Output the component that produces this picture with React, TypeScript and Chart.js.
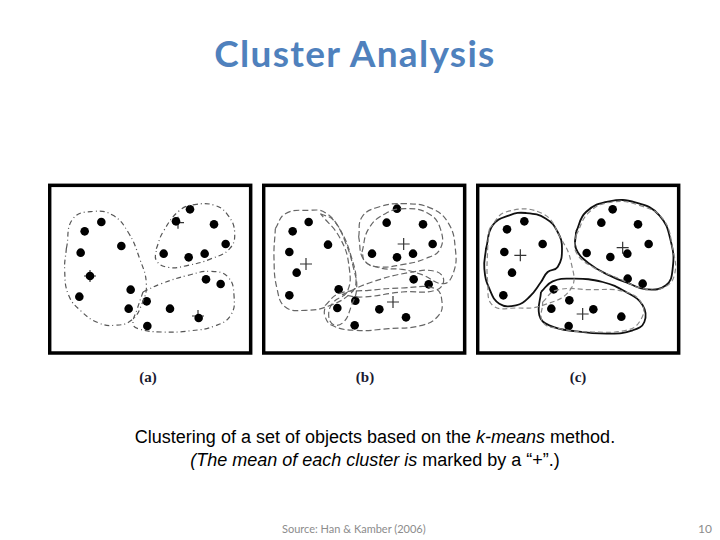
import React, { useEffect, useRef } from "react";
import { Chart, registerables } from "chart.js";
Chart.register(...registerables);

type P = [number, number];

// Panel (a)
const aDots: P[] = [[160,120],[110,148],[98,212],[220,192],[126,282],[94,344],[248,323],[242,380],[426,82],[384,118],[498,127],[533,186],[347,215],[422,226],[470,215],[474,292],[518,306],[296,358],[366,380],[452,408],[298,432]];
const aMeans: P[] = [[126,282],[390,122],[450,402]];
const aOutline1: P[] = [[55,200],[75,110],[140,88],[195,100],[240,150],[275,230],[295,305],[282,365],[250,415],[200,430],[150,422],[100,388],[62,340],[50,265]];
const aOutline2: P[] = [[325,200],[345,150],[395,85],[440,68],[500,70],[540,100],[560,152],[545,200],[490,230],[420,250],[360,256],[325,235]];
const aOutline3: P[] = [[285,330],[340,305],[420,280],[490,268],[540,285],[558,340],[548,400],[500,432],[430,446],[340,450],[270,440],[255,425],[268,380]];

// Panel (b)
const bDots: P[] = [[140,120],[92,148],[82,210],[198,188],[104,272],[82,340],[230,322],[226,378],[280,356],[278,430],[352,382],[432,406],[455,292],[500,307],[405,80],[374,122],[483,127],[512,186],[330,215],[405,226],[453,215]];
const bMeans: P[] = [[132,246],[425,186],[393,360]];
const bOutline1: P[] = [[40,140],[70,95],[140,85],[190,92],[235,145],[268,225],[282,300],[265,335],[200,372],[130,385],[70,375],[45,320],[36,230]];
const bOutline2: P[] = [[175,95],[215,115],[250,180],[275,260],[284,320],[268,372],[245,420],[215,428],[200,398],[215,360],[255,330],[262,260],[235,170]];
const bOutline3: P[] = [[290,165],[300,105],[350,75],[430,65],[510,80],[560,125],[580,200],[575,270],[545,305],[480,278],[420,262],[355,258],[305,232]];
const bOutline4: P[] = [[300,210],[320,140],[370,95],[430,80],[500,95],[535,140],[535,200],[490,230],[420,248],[350,255],[310,240]];
const bOutline5: P[] = [[190,370],[230,335],[320,325],[420,318],[520,320],[540,360],[530,400],[480,430],[380,440],[280,445],[210,430],[188,400]];
const bOutline6: P[] = [[240,338],[330,300],[440,272],[520,268],[545,295],[520,325],[420,330],[300,345]];

// Panel (c)
const cDots: P[] = [[145,118],[93,142],[200,186],[85,210],[108,272],[82,340],[410,82],[376,122],[486,127],[518,186],[332,213],[403,225],[454,215],[455,290],[500,305],[233,322],[280,355],[226,380],[352,382],[436,404],[278,432]];
const cMeans: P[] = [[133,220],[440,197],[320,396]];
const cSolid1: P[] = [[30,200],[50,130],[100,100],[150,93],[210,110],[245,150],[258,200],[245,255],[215,270],[195,300],[160,345],[120,370],[70,365],[40,320],[25,260]];
const cSolid2: P[] = [[300,150],[330,90],[400,58],[480,62],[550,100],[585,180],[590,260],[570,310],[510,322],[460,305],[400,280],[340,245],[300,200]];
const cSolid3: P[] = [[195,330],[230,298],[290,290],[380,300],[450,330],[500,370],[505,420],[470,445],[400,455],[300,448],[220,430],[190,400]];
const cDash1: P[] = [[40,140],[90,90],[200,95],[255,170],[285,240],[285,320],[200,370],[120,378],[50,370],[35,300],[35,200]];
const cDash2: P[] = [[300,160],[340,90],[410,60],[490,70],[560,110],[590,200],[595,280],[560,318],[500,320],[430,290],[350,255],[300,210]];
const cDash3: P[] = [[200,360],[240,325],[340,323],[450,330],[500,370],[490,420],[450,445],[350,450],[250,440],[200,420]];

const panelLabels = ["(a)", "(b)", "(c)"];

const toXY = (pts: P[]) => pts.map(([x, y]) => ({ x, y }));
const closed = (pts: P[]) => toXY([...pts, pts[0]]);

function outline(pts: P[], dash: number[], color: string, width: number) {
  return {
    type: "line" as const,
    data: closed(pts),
    borderColor: color,
    borderWidth: width,
    borderDash: dash,
    tension: 0.45,
    pointRadius: 0,
    fill: false,
  };
}

const framePlugin = {
  id: "frame",
  afterDraw(chart: any) {
    const { ctx, scales } = chart;
    const x0 = scales.x.getPixelForValue(5);
    const x1 = scales.x.getPixelForValue(608);
    const y0 = scales.y.getPixelForValue(10);
    const y1 = scales.y.getPixelForValue(513);
    ctx.save();
    ctx.strokeStyle = "#000";
    ctx.lineWidth = 3.5;
    ctx.strokeRect(x0, y0, x1 - x0, y1 - y0);
    ctx.restore();
  },
};

function Panel({ left, outlines, dots, means }: { left: number; outlines: any[]; dots: P[]; means: P[] }) {
  const ref = useRef<HTMLCanvasElement>(null);
  useEffect(() => {
    const chart = new Chart(ref.current!, {
      type: "scatter",
      data: {
        datasets: [
          ...outlines,
          {
            type: "scatter",
            data: toXY(dots),
            pointRadius: 4.3,
            backgroundColor: "#000",
            borderColor: "#000",
            borderWidth: 0,
          },
          {
            type: "scatter",
            data: toXY(means),
            pointStyle: "cross",
            pointRadius: 6,
            borderColor: "#333",
            borderWidth: 1.2,
          },
        ] as any,
      },
      options: {
        animation: false,
        responsive: false,
        events: [],
        layout: { padding: 0, autoPadding: false },
        plugins: { legend: { display: false }, tooltip: { enabled: false } },
        scales: {
          x: { type: "linear", min: 0, max: 618, display: false },
          y: { type: "linear", min: 0, max: 522, reverse: true, display: false },
        },
      },
      plugins: [framePlugin],
    });
    return () => chart.destroy();
  }, []);
  return (
    <canvas
      ref={ref}
      width={206}
      height={174}
      style={{ position: "absolute", left, top: 182, width: 206, height: 174 }}
    />
  );
}

export default function App() {
  const dashA = [5, 3, 1, 3];
  const dashB = [6, 3];
  const grayA = "#555";
  const grayB = "#666";
  const panels = [
    {
      left: 48,
      outlines: [outline(aOutline1, dashA, grayA, 1.2), outline(aOutline2, dashA, grayA, 1.2), outline(aOutline3, dashA, grayA, 1.2)],
      dots: aDots,
      means: aMeans,
    },
    {
      left: 262,
      outlines: [
        outline(bOutline1, dashB, grayB, 1.2),
        outline(bOutline2, dashB, grayB, 1.2),
        outline(bOutline3, dashB, grayB, 1.2),
        outline(bOutline4, dashB, grayB, 1.2),
        outline(bOutline5, dashB, grayB, 1.2),
        outline(bOutline6, dashB, grayB, 1.2),
      ],
      dots: bDots,
      means: bMeans,
    },
    {
      left: 476,
      outlines: [
        outline(cDash1, [5, 3], "#888", 1.2),
        outline(cDash2, [5, 3], "#888", 1.2),
        outline(cDash3, [5, 3], "#888", 1.2),
        outline(cSolid1, [], "#111", 1.8),
        outline(cSolid2, [], "#111", 1.8),
        outline(cSolid3, [], "#111", 1.8),
      ],
      dots: cDots,
      means: cMeans,
    },
  ];
  const labelCenters = [148, 365, 578];
  return (
    <div style={{ position: "fixed", left: 0, top: 0, width: 720, height: 540, background: "#fff", overflow: "hidden" }}>
      <div
        style={{
          position: "absolute",
          left: 0,
          width: 710,
          top: 31,
          textAlign: "center",
          font: "700 37px Lato, sans-serif",
          letterSpacing: "1.3px",
          lineHeight: "44px",
          color: "#4f81bd",
        }}
      >
        Cluster Analysis
      </div>
      {panels.map((p, i) => (
        <Panel key={i} left={p.left} outlines={p.outlines} dots={p.dots} means={p.means} />
      ))}
      {panelLabels.map((t, i) => (
        <div
          key={t}
          style={{
            position: "absolute",
            left: labelCenters[i] - 30,
            width: 60,
            top: 368,
            textAlign: "center",
            font: "600 15px 'Liberation Serif', serif",
            lineHeight: "18px",
            color: "#1a1a30",
          }}
        >
          {t}
        </div>
      ))}
      <div
        style={{
          position: "absolute",
          left: 0,
          width: 750,
          top: 426,
          textAlign: "center",
          font: "18px 'Liberation Sans', Arial, sans-serif",
          lineHeight: "23px",
          color: "#000",
        }}
      >
        Clustering of a set of objects based on the <i>k-means</i> method.
        <br />
        <i>(The mean of each cluster is</i> marked by a “+”.)
      </div>
      <div
        style={{
          position: "absolute",
          left: 282,
          top: 522,
          font: "11px Lato, sans-serif",
          lineHeight: "14px",
          color: "#8c8c8c",
        }}
      >
        Source: Han &amp; Kamber (2006)
      </div>
      <div
        style={{
          position: "absolute",
          right: 8,
          top: 522,
          font: "12px Lato, sans-serif",
          lineHeight: "14px",
          color: "#8c8c8c",
        }}
      >
        10
      </div>
    </div>
  );
}
